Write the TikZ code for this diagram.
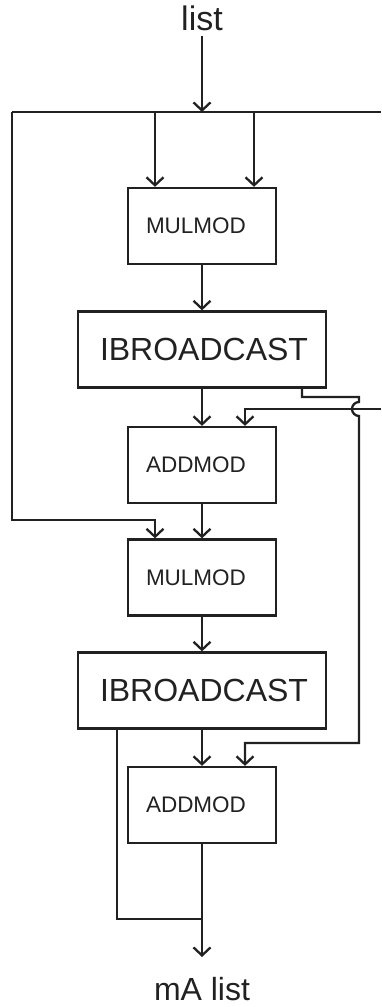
\documentclass[tikz,border=0pt]{standalone}
\usepackage{fontspec}
\setmainfont{Liberation Sans}
\usetikzlibrary{arrows.meta}
\begin{document}
\begin{tikzpicture}[x=1pt,y=1pt,
  wire/.style={draw=black!87, line width=2.3pt},
  flow/.style={wire, -{Straight Barb[length=8pt,width=17pt,line width=2.3pt]}},
  smallbox/.style={draw=black!87, line width=2.3pt, text=black!87,
    minimum height=76pt, inner xsep=18pt, text width=112pt, align=left,
    font=\fontsize{22.5}{26}\selectfont},
  widebox/.style={draw=black!87, line width=2.3pt, text=black!87,
    minimum height=76pt, inner xsep=22pt, text width=204pt, align=left,
    font=\fontsize{32}{36}\selectfont},
  caption/.style={text=black!87, inner sep=0pt, anchor=base}
]
\useasboundingbox (0,0) rectangle (381,-1007);

% input and output labels
\node[caption, font=\fontsize{34}{38}\selectfont] (lst) at (202,-30) {list};
\node[caption, font=\fontsize{32}{36}\selectfont] (res) at (202,-1000) {mA list};

% processing chain
\node[smallbox] (mul1) at (202,-226)   {MULMOD};
\node[widebox]  (ib1)  at (202,-349.5) {IBROADCAST};
\node[smallbox] (add1) at (202,-465)   {ADDMOD};
\node[smallbox] (mul2) at (202,-577.5) {MULMOD};
\node[widebox]  (ib2)  at (202,-690.5) {IBROADCAST};
\node[smallbox] (add2) at (202,-805)   {ADDMOD};

% junction points of the wiring
\coordinate (j0)   at (202,-112);
\coordinate (busl) at (12,-112);
\coordinate (busr) at (381,-112);
\coordinate (rin)  at (381,-409);
\coordinate (out)  at (202,-957);
\coordinate (merge) at (202,-919);

% input bus
\draw[flow] ([yshift=-6pt]lst.base) -- (j0);
\draw[wire] (busl) -- (busr);
\draw[flow] (busl -| {(155,0)}) -- (mul1.north -| {(155,0)});
\draw[flow] (busl -| {(254,0)}) -- (mul1.north -| {(254,0)});

% main chain
\draw[flow] (mul1) -- (ib1);
\draw[flow] (ib1) -- (add1);
\draw[flow] (add1) -- (mul2);
\draw[flow] (mul2) -- (ib2);
\draw[flow] (ib2) -- (add2);
\draw[flow] (add2) -- (out);

% bypass of the list into the second MULMOD
\draw[flow] (busl) -- (12,-520) -- (155,-520) -- (mul2.north -| {(155,0)});

% external input into the first ADDMOD
\draw[flow] (rin) -- (245,-409) -- (add1.north -| {(245,0)});

% feedback from the first IBROADCAST into the second ADDMOD, hopping over
\draw[flow] (ib1.south -| {(302,0)}) -- (302,-397) -- (359,-397) -- (359,-402)
  arc[start angle=90, end angle=270, radius=7pt] -- (359,-743) -- (245,-743)
  -- (add2.north -| {(245,0)});

% second IBROADCAST joins the output
\draw[wire] (ib2.south -| {(117,0)}) -- (117,-919) -- (merge);
\end{tikzpicture}
\end{document}
